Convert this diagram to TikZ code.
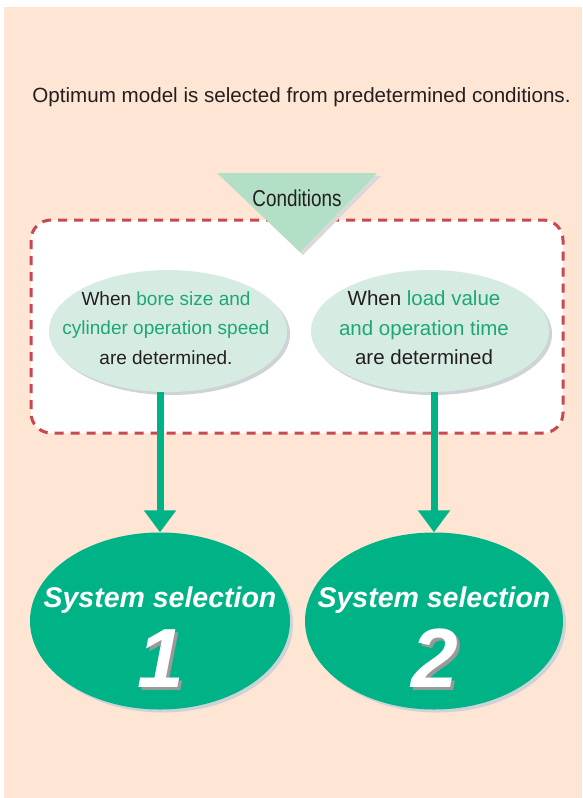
\documentclass[tikz,border=0pt]{standalone}
\usepackage{fontspec}
\setmainfont{Liberation Sans}
\newfontfamily\narrowfont[FakeStretch=0.82]{Liberation Sans}
\usetikzlibrary{arrows.meta,shapes.geometric,shadows}
\definecolor{peach}{HTML}{FEE5D4}
\definecolor{dark}{HTML}{231F20}
\definecolor{bigg}{HTML}{00B386}
\definecolor{paleg}{HTML}{D6ECE3}
\definecolor{trig}{HTML}{B3DFC6}
\definecolor{txtg}{HTML}{1BA873}
\definecolor{dashred}{HTML}{C9474F}
\definecolor{shad}{HTML}{CDD3D6}
\definecolor{numshad}{HTML}{9A9A9A}
\newcommand{\shadnum}[1]{\rlap{\hspace{3pt}\raisebox{-3pt}{\textcolor{numshad}{#1}}}#1}
\tikzset{
  dashbox/.style={draw=dashred, line width=3pt, dash pattern=on 9pt off 7pt, fill=white, rounded corners=20pt},
  lightell/.style={ellipse, fill=paleg, minimum width=238pt, minimum height=122pt, inner sep=0pt,
    drop shadow={shadow xshift=3pt, shadow yshift=-3pt, fill=shad, opacity=1}},
  bigell/.style={ellipse, fill=bigg, minimum height=177pt, inner sep=0pt,
    drop shadow={shadow xshift=3pt, shadow yshift=-3pt, fill=shad, opacity=1}},
  arr/.style={draw=bigg, line width=7pt, -{Triangle[width=31pt,length=22pt]}},
  ctext/.style={text=dark, align=center},
  systext/.style={font=\fontsize{28.5}{30}\selectfont\bfseries\itshape, text=white},
  numtext/.style={font=\fontsize{84}{84}\selectfont\bfseries\itshape, text=white},
}
\begin{document}
\begin{tikzpicture}[x=1pt,y=-1pt]
\useasboundingbox (0,0) rectangle (582,798);
\fill[peach] (4,7) rectangle (582,798);
\node[font=\fontsize{20.6}{24}\selectfont, text=dark] (title) at (301.5,97) {Optimum model is selected from predetermined conditions.};
% dashed box
\draw[dashbox] (31,220) rectangle (563,433);
% triangle
\fill[gray!30] (221,176) -- (381,176) -- (303,255) -- cycle;
\fill[trig] (217,173) -- (377,173) -- (300,252) -- cycle;
\node[font=\narrowfont\fontsize{23}{26}\selectfont, text=dark] (cond) at (297,198) {Conditions};
% light ellipses
\node[lightell] (c1) at (168,331) {};
\node[ctext, font=\fontsize{19}{29.5}\selectfont] (t1) at (166,328) {When \textcolor{txtg}{bore size and}\\\textcolor{txtg}{cylinder operation speed}\\are determined.};
\node[lightell] (c2) at (430,331) {};
\node[ctext, font=\fontsize{20.5}{29.5}\selectfont] (t2) at (424,328) {When \textcolor{txtg}{load value}\\\textcolor{txtg}{and operation time}\\are determined};
% big ellipses
\node[bigell, minimum width=260pt] (b1) at (160,621) {};
\node[bigell, minimum width=258pt] (b2) at (434,621) {};
\node[systext] (s1) at (160,600) {System selection};
\node[systext] (s2) at (434,600) {System selection};
\node[numtext] (n1) at (161,660) {\shadnum{1}};
\node[numtext] (n2) at (435,660) {\shadnum{2}};
% arrows
\draw[arr] (b1.north |- c1.south) -- (b1.north);
\draw[arr] (b2.north |- c2.south) -- (b2.north);
\end{tikzpicture}
\end{document}
